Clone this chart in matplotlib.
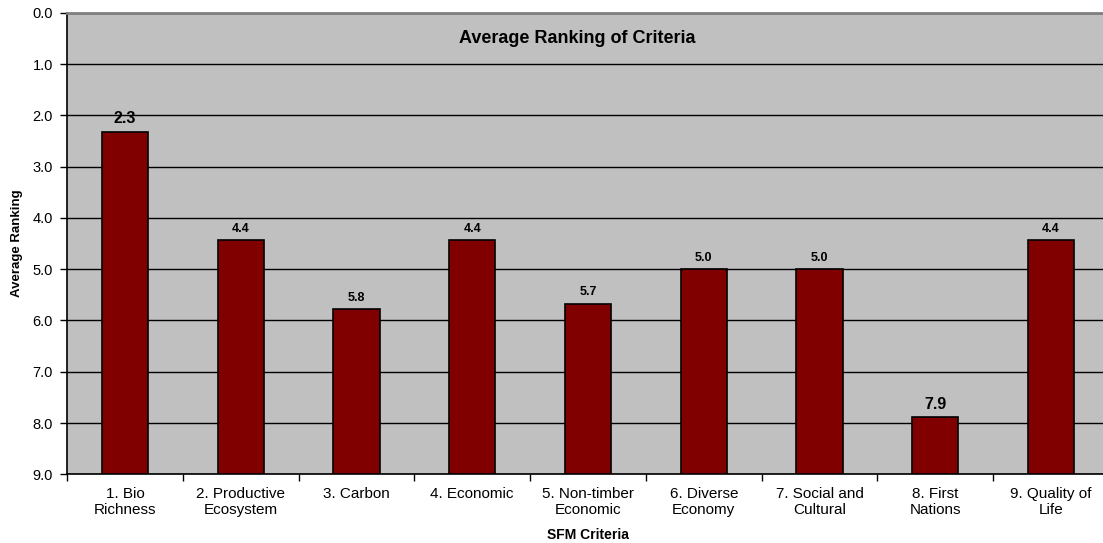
import matplotlib.pyplot as plt
import numpy as np

plt.rcParams['font.family'] = ['Liberation Sans', 'DejaVu Sans']

criteria = ['1. Bio\nRichness', '2. Productive\nEcosystem', '3. Carbon',
            '4. Economic', '5. Non-timber\nEconomic', '6. Diverse\nEconomy',
            '7. Social and\nCultural', '8. First\nNations', '9. Quality of\nLife']
avg_rank = [2.32, 4.44, 5.78, 4.44, 5.67, 5.0, 5.0, 7.89, 4.44]
label_size = [11.5, 9, 9, 9, 9, 9, 9, 11.5, 9]

base = 9.0
x = np.arange(len(criteria))

fig = plt.figure(figsize=(11.03, 5.43), dpi=100)
ax = fig.add_axes([67 / 1103, 0.1265, 1042 / 1103, 0.850])
ax.set_facecolor('#c0c0c0')

# bars grow from the bottom (rank 9) up towards rank 0
heights = [v - base for v in avg_rank]
ax.bar(x, heights, bottom=base, width=0.40, color='#800000',
       edgecolor='black', linewidth=1.2, zorder=3)

for xi, v, fs in zip(x, avg_rank, label_size):
    ax.annotate(f'{v:.1f}', (xi, v), xytext=(0, 4), textcoords='offset points',
                ha='center', va='bottom', fontsize=fs, fontweight='bold')

ax.set_ylim(9, 0)
ax.set_xlim(-0.5, len(criteria) - 0.5)
ax.set_yticks(np.arange(0, 10))
ax.set_yticklabels([f'{v:.1f}' for v in range(10)], fontsize=10.5)
ax.yaxis.grid(True, color='black', linewidth=1.0, zorder=1)
ax.set_axisbelow(True)

ax.set_xticks(x)
ax.set_xticklabels(criteria, fontsize=11, linespacing=1.2)
ax.set_xticks(np.arange(-0.5, len(criteria), 1), minor=True)
ax.tick_params(axis='x', which='major', length=0, pad=9)
ax.tick_params(axis='x', which='minor', length=5, width=1, color='black')
ax.tick_params(axis='y', length=5, width=1, pad=5)

ax.spines['right'].set_visible(False)
ax.spines['top'].set_color('#808080')
ax.spines['top'].set_linewidth(2)
ax.spines['left'].set_linewidth(1.2)
ax.spines['bottom'].set_linewidth(1.2)

ax.text(0.49, 0.945, 'Average Ranking of Criteria', transform=ax.transAxes,
        ha='center', va='center', fontsize=13, fontweight='bold')
ax.set_ylabel('Average Ranking', fontsize=9.5, fontweight='bold', labelpad=7)
ax.set_xlabel('SFM Criteria', fontsize=10, fontweight='bold', labelpad=8)

fig.savefig('out.png', dpi=100)
